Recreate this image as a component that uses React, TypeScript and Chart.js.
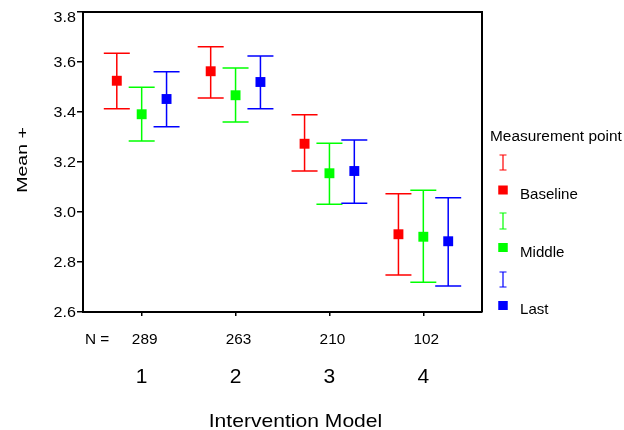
import React, { useEffect, useRef } from 'react';
import { Chart, registerables } from 'chart.js';

Chart.register(...registerables);

// Intervention model groups and their sample sizes
const categories = ['1', '2', '3', '4'];
const groupSizes = [289, 263, 210, 102];

// Measurement points
const seriesNames = ['Baseline', 'Middle', 'Last'];
const seriesColors = ['#ff0000', '#00ff00', '#0000ff'];

// Means with their lower / upper interval bounds
const baselineMean = [3.525, 3.563, 3.273, 2.911];
const baselineLow = [3.413, 3.456, 3.164, 2.748];
const baselineHigh = [3.635, 3.661, 3.389, 3.073];

const middleMean = [3.391, 3.467, 3.155, 2.901];
const middleLow = [3.284, 3.36, 3.031, 2.719];
const middleHigh = [3.499, 3.576, 3.275, 3.087];

const lastMean = [3.452, 3.52, 3.164, 2.883];
const lastLow = [3.341, 3.413, 3.035, 2.704];
const lastHigh = [3.561, 3.624, 3.288, 3.057];

const yTickLabels = ['2.6', '2.8', '3.0', '3.2', '3.4', '3.6', '3.8'];

const yTitle = 'Mean +';
const xTitle = 'Intervention Model';
const legendTitle = 'Measurement point';
const nPrefix = 'N =';

// Horizontal dodge of the three measurement points inside a group
const dodge = [-0.265, 0, 0.265];

const series = [
  { mean: baselineMean, low: baselineLow, high: baselineHigh },
  { mean: middleMean, low: middleLow, high: middleHigh },
  { mean: lastMean, low: lastLow, high: lastHigh },
];

const FONT = '"Liberation Sans", Arial, Helvetica, sans-serif';

type Align = 'left' | 'center' | 'right';

// Draws text vertically centred on its cap height, with an optional horizontal stretch
function drawText(
  ctx: CanvasRenderingContext2D,
  text: string,
  x: number,
  y: number,
  size: number,
  align: Align,
  sx: number,
  rotate = false
) {
  ctx.save();
  ctx.font = `${size}px ${FONT}`;
  ctx.fillStyle = '#000';
  ctx.textAlign = 'left';
  ctx.textBaseline = 'alphabetic';
  const cap = size * 0.716;
  const w = ctx.measureText(text).width * sx;
  ctx.translate(x, y);
  if (rotate) ctx.rotate(-Math.PI / 2);
  const dx = align === 'left' ? 0 : align === 'center' ? -w / 2 : -w;
  ctx.translate(dx, cap / 2);
  ctx.scale(sx, 1);
  ctx.fillText(text, 0, 0);
  ctx.restore();
}

const errorBarPlugin = {
  id: 'errorBars',
  beforeDatasetsDraw(chart: any) {
    const ctx: CanvasRenderingContext2D = chart.ctx;
    const xs = chart.scales.x;
    const ys = chart.scales.y;
    const capHalf = 13;
    ctx.save();
    ctx.lineWidth = 1.5;
    series.forEach((s, i) => {
      ctx.strokeStyle = seriesColors[i];
      s.mean.forEach((_, j) => {
        const x = xs.getPixelForValue(j + 1 + dodge[i]);
        const yl = ys.getPixelForValue(s.low[j]);
        const yh = ys.getPixelForValue(s.high[j]);
        ctx.beginPath();
        ctx.moveTo(x, yh);
        ctx.lineTo(x, yl);
        ctx.moveTo(x - capHalf, yh);
        ctx.lineTo(x + capHalf, yh);
        ctx.moveTo(x - capHalf, yl);
        ctx.lineTo(x + capHalf, yl);
        ctx.stroke();
      });
    });
    ctx.restore();
  },
};

const decorPlugin = {
  id: 'decor',
  afterDraw(chart: any) {
    const ctx: CanvasRenderingContext2D = chart.ctx;
    const area = chart.chartArea;
    const xs = chart.scales.x;
    const ys = chart.scales.y;

    // closing top and right frame
    ctx.save();
    ctx.strokeStyle = '#000';
    ctx.lineWidth = 2;
    ctx.beginPath();
    ctx.moveTo(area.left, area.top);
    ctx.lineTo(area.right, area.top);
    ctx.lineTo(area.right, area.bottom);
    ctx.stroke();
    ctx.restore();

    // y tick labels
    const tickSize = 14;
    const tickCap = tickSize * 0.716;
    yTickLabels.forEach((t) => {
      let y = ys.getPixelForValue(parseFloat(t));
      y = Math.max(y, area.top + tickCap / 2);
      drawText(ctx, t, area.left - 7, y, tickSize, 'right', 1.15);
    });

    // y title
    drawText(ctx, yTitle, 22, 160, 15, 'center', 1.3, true);

    // N row and category labels
    drawText(ctx, nPrefix, 85, 339, 14.5, 'left', 1.06);
    categories.forEach((c, j) => {
      const x = xs.getPixelForValue(j + 1);
      drawText(ctx, String(groupSizes[j]), x + 3, 339, 14.5, 'center', 1.06);
      drawText(ctx, c, x, 375.5, 20, 'center', 1.05);
    });

    // x title
    drawText(ctx, xTitle, (area.left + area.right) / 2 + 13, 420, 18.5, 'center', 1.14);

    // legend
    drawText(ctx, legendTitle, 490, 135.5, 14, 'left', 1.1);
    const legendX = 503;
    const barTops = [155, 213, 272];
    const barBottoms = [170, 229, 287];
    const boxCenters = [190, 247.5, 305.5];
    const labelCenters = [193.5, 251.5, 308.5];
    seriesNames.forEach((name, i) => {
      ctx.save();
      ctx.strokeStyle = seriesColors[i];
      ctx.lineWidth = 1.2;
      ctx.beginPath();
      ctx.moveTo(legendX, barTops[i]);
      ctx.lineTo(legendX, barBottoms[i]);
      ctx.moveTo(legendX - 3.5, barTops[i]);
      ctx.lineTo(legendX + 3.5, barTops[i]);
      ctx.moveTo(legendX - 3.5, barBottoms[i]);
      ctx.lineTo(legendX + 3.5, barBottoms[i]);
      ctx.stroke();
      ctx.fillStyle = seriesColors[i];
      ctx.fillRect(legendX - 4.75, boxCenters[i] - 4.5, 9.5, 9);
      ctx.restore();
      drawText(ctx, name, 520, labelCenters[i], 14.5, 'left', 1.04);
    });
  },
};

export default function App() {
  const canvasRef = useRef<HTMLCanvasElement | null>(null);

  useEffect(() => {
    const canvas = canvasRef.current;
    if (!canvas) return;

    const datasets = series.map((s, i) => ({
      label: seriesNames[i],
      data: s.mean.map((m, j) => ({ x: j + 1 + dodge[i], y: m })),
      backgroundColor: seriesColors[i],
      borderColor: seriesColors[i],
      pointStyle: 'rect' as const,
      pointRadius: 7,
      pointBorderWidth: 0,
      showLine: false,
    }));

    const yMin = parseFloat(yTickLabels[0]);
    const yMax = parseFloat(yTickLabels[yTickLabels.length - 1]);

    const chart = new Chart(canvas, {
      type: 'scatter',
      data: { datasets },
      options: {
        responsive: false,
        animation: false,
        layout: { padding: { top: 12, right: 142, left: 0, bottom: 0 } },
        plugins: {
          legend: { display: false },
          tooltip: { enabled: false },
        },
        scales: {
          x: {
            type: 'linear',
            min: 0.375,
            max: 4.625,
            afterBuildTicks: (scale: any) => {
              scale.ticks = categories.map((_, j) => ({ value: j + 1 }));
            },
            afterFit: (scale: any) => {
              scale.height = 118;
            },
            ticks: { display: false },
            grid: {
              drawOnChartArea: false,
              drawTicks: true,
              tickLength: 4,
              color: '#000',
              lineWidth: 1.5,
            },
            border: { display: true, color: '#000', width: 2 },
          },
          y: {
            type: 'linear',
            min: yMin,
            max: yMax,
            afterBuildTicks: (scale: any) => {
              scale.ticks = yTickLabels.map((t) => ({ value: parseFloat(t) }));
            },
            afterFit: (scale: any) => {
              scale.width = 83;
            },
            ticks: { display: false },
            grid: {
              drawOnChartArea: false,
              drawTicks: true,
              tickLength: 6,
              color: '#000',
              lineWidth: 1.5,
            },
            border: { display: true, color: '#000', width: 2 },
          },
        },
      },
      plugins: [errorBarPlugin, decorPlugin],
    });

    return () => chart.destroy();
  }, []);

  return (
    <div style={{ position: 'absolute', left: 0, top: 0, width: 624, height: 430, background: '#fff' }}>
      <canvas ref={canvasRef} width={624} height={430} />
    </div>
  );
}
